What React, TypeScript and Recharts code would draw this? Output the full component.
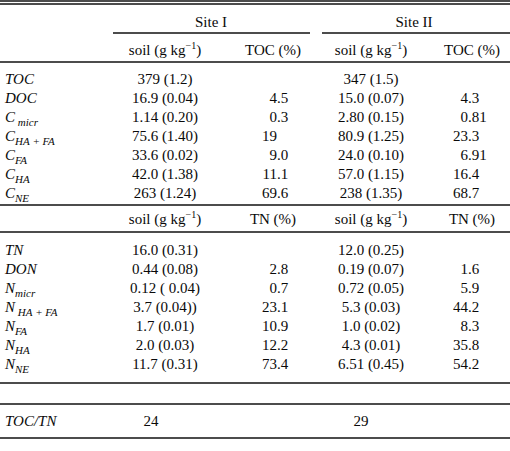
import { ScatterChart, Scatter, XAxis, YAxis, ReferenceLine } from 'recharts';

// ---- table content ----
const siteNames = ['Site I', 'Site II'];
const soilUnit = 'soil (g kg|−1|)';
const carbonPctHeader = 'TOC (%)';
const nitrogenPctHeader = 'TN (%)';

const carbonLabels = ['TOC', 'DOC', 'C| micr', 'C|HA + FA', 'C|FA', 'C|HA', 'C|NE'];
const siteISoilC = ['379 (1.2)', '16.9 (0.04)', '1.14 (0.20)', '75.6 (1.40)', '33.6 (0.02)', '42.0 (1.38)', '263 (1.24)'];
const siteITocPct = ['', '4.5', '0.3', '19', '9.0', '11.1', '69.6'];
const siteIISoilC = ['347 (1.5)', '15.0 (0.07)', '2.80 (0.15)', '80.9 (1.25)', '24.0 (0.10)', '57.0 (1.15)', '238 (1.35)'];
const siteIITocPct = ['', '4.3', '0.81', '23.3', '6.91', '16.4', '68.7'];

const nitrogenLabels = ['TN', 'DON', 'N|micr', 'N| HA + FA', 'N|FA', 'N|HA', 'N|NE'];
const siteISoilN = ['16.0 (0.31)', '0.44 (0.08)', '0.12 ( 0.04)', '3.7 (0.04))', '1.7 (0.01)', '2.0 (0.03)', '11.7 (0.31)'];
const siteITnPct = ['', '2.8', '0.7', '23.1', '10.9', '12.2', '73.4'];
const siteIISoilN = ['12.0 (0.25)', '0.19 (0.07)', '0.72 (0.05)', '5.3 (0.03)', '1.0 (0.02)', '4.3 (0.01)', '6.51 (0.45)'];
const siteIITnPct = ['', '1.6', '5.9', '44.2', '8.3', '35.8', '54.2'];

const ratioLabel = 'TOC/TN';
const ratioValues = ['24', '29'];

// ---- layout ----
const W = 510;
const H = 451;
const FONT = '"Liberation Serif", "Times New Roman", serif';
const FS = 15;

const colX = {
  label: 5,
  siteI: 211,
  siteII: 414,
  soilI: 165,
  pctI: 277,
  soilII: 371,
  pctII: 468,
  ratioI: 151,
  ratioII: 361,
};
const rowY = { site: 22, unitsC: 50, firstC: 79, unitsN: 219, firstN: 250, ratio: 421, step: 19 };

const rules = [
  { y: 1, x1: 0, x2: W },
  { y: 4, x1: 0, x2: W },
  { y: 33, x1: 113, x2: 310 },
  { y: 33, x1: 322, x2: W },
  { y: 62, x1: 0, x2: W },
  { y: 205, x1: 0, x2: W },
  { y: 232, x1: 0, x2: W },
  { y: 383, x1: 0, x2: W },
  { y: 404, x1: 0, x2: W },
  { y: 438, x1: 0, x2: W },
];

type Kind = 'label' | 'center' | 'decimal' | 'units';
type Cell = { x: number; y: number; text: string; kind: Kind };

const cells: Cell[] = [];
const push = (x: number, y: number, text: string, kind: Kind) => {
  if (text !== '') cells.push({ x, y, text, kind });
};

push(colX.siteI, rowY.site, siteNames[0], 'center');
push(colX.siteII, rowY.site, siteNames[1], 'center');

const block = (
  unitsY: number,
  firstY: number,
  pctHeader: string,
  labels: string[],
  s1: string[],
  p1: string[],
  s2: string[],
  p2: string[]
) => {
  push(colX.soilI, unitsY, soilUnit, 'units');
  push(colX.pctI - 4, unitsY, pctHeader, 'center');
  push(colX.soilII, unitsY, soilUnit, 'units');
  push(colX.pctII + 4, unitsY, pctHeader, 'center');
  labels.forEach((l, i) => {
    const y = firstY + i * rowY.step;
    push(colX.label, y, l, 'label');
    push(colX.soilI, y, s1[i], 'center');
    push(colX.pctI, y, p1[i], 'decimal');
    push(colX.soilII, y, s2[i], 'center');
    push(colX.pctII, y, p2[i], 'decimal');
  });
};

block(rowY.unitsC, rowY.firstC, carbonPctHeader, carbonLabels, siteISoilC, siteITocPct, siteIISoilC, siteIITocPct);
block(rowY.unitsN, rowY.firstN, nitrogenPctHeader, nitrogenLabels, siteISoilN, siteITnPct, siteIISoilN, siteIITnPct);

push(colX.label, rowY.ratio, ratioLabel, 'label');
push(colX.ratioI, rowY.ratio, ratioValues[0], 'center');
push(colX.ratioII, rowY.ratio, ratioValues[1], 'center');

const CellShape = (props: any) => {
  const { cx, cy, payload } = props;
  const c = payload as Cell;
  const base = cy + 5;
  const common = { fontFamily: FONT, fontSize: FS, fill: '#0a0a0a' };

  if (c.kind === 'label') {
    const [main, sub] = c.text.split('|');
    return (
      <text x={cx} y={base} {...common} fontStyle="italic">
        <tspan>{main}</tspan>
        {sub && (
          <tspan dy={4} fontSize={11}>
            {sub.replace(/ /g, '\u00a0')}
          </tspan>
        )}
      </text>
    );
  }
  if (c.kind === 'units') {
    const [a, sup, b] = c.text.split('|');
    return (
      <text x={cx} y={base} {...common} textAnchor="middle">
        <tspan>{a}</tspan>
        <tspan dy={-6} fontSize={10}>{sup}</tspan>
        <tspan dy={6}>{b}</tspan>
      </text>
    );
  }
  if (c.kind === 'decimal') {
    const [int, frac] = c.text.split('.');
    return (
      <g>
        <text x={cx} y={base} {...common} textAnchor="end">{int}</text>
        {frac !== undefined && (
          <text x={cx} y={base} {...common} textAnchor="start">.{frac}</text>
        )}
      </g>
    );
  }
  return (
    <text x={cx} y={base} {...common} textAnchor="middle">
      {c.text.replace(/ /g, '\u00a0')}
    </text>
  );
};

export default function App() {
  return (
    <div style={{ position: 'fixed', left: 0, top: 0, width: W, height: H, background: '#fff' }}>
      <ScatterChart width={W} height={H} margin={{ top: 0, right: 0, bottom: 0, left: 0 }}>
        <XAxis type="number" dataKey="x" domain={[0, W]} hide />
        <YAxis type="number" dataKey="y" domain={[0, H]} reversed hide />
        {rules.map((r, i) => (
          <ReferenceLine
            key={i}
            segment={[
              { x: r.x1, y: r.y },
              { x: r.x2, y: r.y },
            ]}
            stroke="#111"
            strokeWidth={1.3}
            ifOverflow="visible"
          />
        ))}
        <Scatter data={cells} shape={CellShape} isAnimationActive={false} />
      </ScatterChart>
    </div>
  );
}
